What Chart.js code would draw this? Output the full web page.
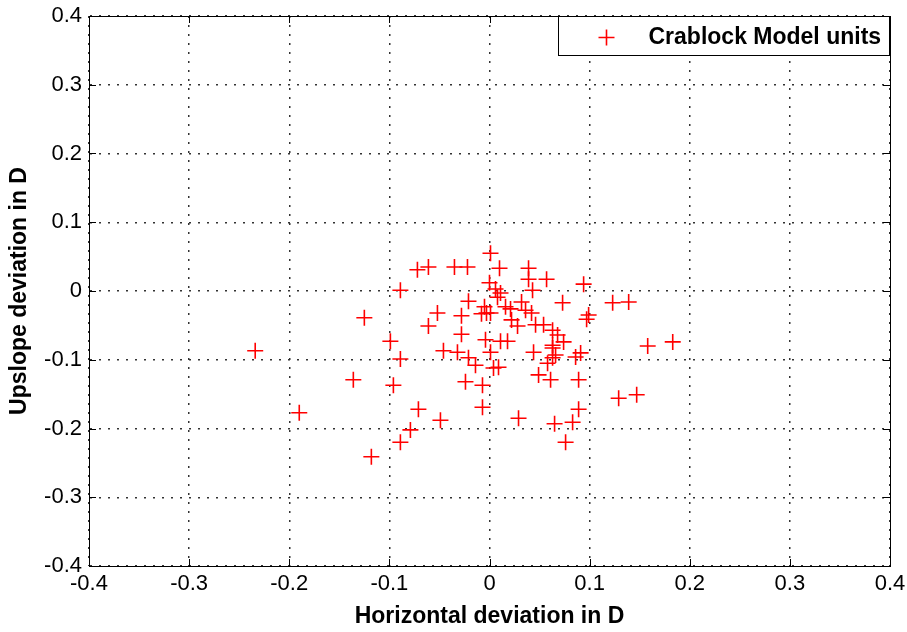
<!DOCTYPE html>
<html>
<head>
<meta charset="utf-8">
<title>Crablock Model units</title>
<script src="https://cdn.jsdelivr.net/npm/chart.js@4.4.1/dist/chart.umd.min.js"></script>
<style>
    html, body { margin: 0; padding: 0; background: #fff; }
    #wrap { width: 907px; height: 632px; position: relative; }
</style>
</head>
<body>
<div id="wrap"><canvas id="grafico"></canvas></div>
<script>
// ==============================================================================
// 1. DATOS
// ==============================================================================

const serieNombre = 'Crablock Model units';

// desviación horizontal (eje X, en D)
const horizontal = [
    -0.234, -0.190, -0.136, -0.125, -0.118, -0.099, -0.096, -0.089, -0.089, -0.089,
    -0.079, -0.072, -0.071, -0.061, -0.061, -0.052, -0.049, -0.046, -0.035, -0.032,
    -0.028, -0.028, -0.024, -0.022, -0.021, -0.021, -0.014, -0.007, -0.007, -0.008,
    -0.005, -0.003, 0.001, -0.004, 0.000, 0.001, 0.001, 0.004, 0.009, 0.006,
    0.011, 0.008, 0.010, 0.011, 0.018, 0.016, 0.021, 0.022, 0.028, 0.029,
    0.032, 0.036, 0.042, 0.039, 0.039, 0.043, 0.044, 0.046, 0.054, 0.049,
    0.057, 0.058, 0.061, 0.063, 0.063, 0.063, 0.066, 0.063, 0.065, 0.068,
    0.073, 0.074, 0.076, 0.083, 0.086, 0.089, 0.089, 0.091, 0.094, 0.097,
    0.099, 0.123, 0.129, 0.139, 0.147, 0.158, 0.183
];

// desviación pendiente arriba (eje Y, en D)
const pendiente = [
    -0.087, -0.177, -0.129, -0.039, -0.241, -0.073, -0.137, 0.001, -0.099, -0.220,
    -0.202, 0.031, -0.172, 0.035, -0.051, -0.032, -0.188, -0.087, 0.035, -0.089,
    -0.036, -0.063, -0.132, 0.035, -0.015, -0.097, -0.108, -0.137, -0.169, -0.033,
    -0.023, -0.032, -0.032, -0.071, 0.012, 0.055, -0.089, -0.112, -0.111, 0.003,
    -0.003, -0.009, 0.033, -0.073, -0.073, -0.023, -0.026, -0.042, -0.051, -0.185,
    -0.016, -0.028, -0.032, 0.033, 0.017, 0.001, -0.089, -0.049, -0.049, -0.122,
    0.017, -0.105, -0.129, -0.057, -0.079, -0.083, -0.093, -0.097, -0.193, -0.064,
    -0.017, -0.074, -0.220, -0.191, -0.096, -0.129, -0.172, -0.090, 0.010, -0.041,
    -0.035, -0.017, -0.156, -0.016, -0.151, -0.080, -0.074
];

const valoresTicks = [-0.4, -0.3, -0.2, -0.1, 0, 0.1, 0.2, 0.3, 0.4];
const etiquetasX = ['-0.4', '-0.3', '-0.2', '-0.1', '0', '0.1', '0.2', '0.3', '0.4'];
const etiquetasY = ['-0.4', '-0.3', '-0.2', '-0.1', '0', '0.1', '0.2', '0.3', '0.4'];

const tituloX = 'Horizontal deviation in D';
const tituloY = 'Upslope deviation in D';

// ==============================================================================
// 2. PLUGIN: marco, marcas interiores y leyenda en recuadro
// ==============================================================================

const FUENTE = "'Liberation Sans', Arial, sans-serif";
const ROJO = 'rgb(255,0,0)';

const marcoMatlab = {
    id: 'marcoMatlab',
    afterDraw(chart) {
        const { ctx, chartArea: a, scales } = chart;
        const largo = 7;
        ctx.save();
        ctx.strokeStyle = '#000';
        ctx.lineWidth = 1;

        // marcas hacia adentro en los cuatro lados
        ctx.beginPath();
        scales.x.ticks.forEach(t => {
            const px = Math.round(scales.x.getPixelForValue(t.value)) + 0.5;
            ctx.moveTo(px, a.bottom); ctx.lineTo(px, a.bottom - largo);
            ctx.moveTo(px, a.top); ctx.lineTo(px, a.top + largo);
        });
        scales.y.ticks.forEach(t => {
            const py = Math.round(scales.y.getPixelForValue(t.value)) + 0.5;
            ctx.moveTo(a.left, py); ctx.lineTo(a.left + largo, py);
            ctx.moveTo(a.right, py); ctx.lineTo(a.right - largo, py);
        });
        ctx.stroke();

        // marco completo
        ctx.strokeRect(Math.round(a.left) + 0.5, Math.round(a.top) + 0.5,
                       Math.round(a.right - a.left), Math.round(a.bottom - a.top));

        // leyenda
        const bx = Math.round(a.right) - 332 + 0.5, by = Math.round(a.top) + 0.5;
        const bw = 331, bh = 39;
        ctx.fillStyle = '#fff';
        ctx.fillRect(bx, by, bw, bh);
        ctx.strokeRect(bx, by, bw, bh);

        const cy = by + 21;
        const mx = bx + 48;
        ctx.strokeStyle = ROJO;
        ctx.lineWidth = 1.6;
        ctx.beginPath();
        ctx.moveTo(mx - 8, cy); ctx.lineTo(mx + 8, cy);
        ctx.moveTo(mx, cy - 8); ctx.lineTo(mx, cy + 8);
        ctx.stroke();

        ctx.fillStyle = '#000';
        ctx.font = 'bold 23px ' + FUENTE;
        ctx.textBaseline = 'middle';
        ctx.textAlign = 'left';
        ctx.fillText(chart.data.datasets[0].label, bx + 90, cy);
        ctx.restore();
    }
};

// ==============================================================================
// 3. GRÁFICO
// ==============================================================================

function ejeLineal(etiquetas, titulo, esX) {
    return {
        type: 'linear',
        position: esX ? 'bottom' : 'left',
        min: -0.4,
        max: 0.4,
        afterBuildTicks: s => { s.ticks = valoresTicks.map(v => ({ value: v })); },
        afterFit: s => {
            // tamaños fijos para que el área del gráfico coincida con la referencia
            if (esX) {
                s.height = 66;
                s.paddingLeft = 0;
                s.paddingRight = 0;
            } else {
                s.width = 89;
                s.paddingTop = 0;
                s.paddingBottom = 0;
            }
        },
        ticks: {
            color: '#000',
            font: { family: FUENTE, size: 22 },
            padding: esX ? 5 : 7,
            maxRotation: 0,
            autoSkip: false,
            callback: (v, i) => etiquetas[i]
        },
        grid: {
            color: '#333',
            lineWidth: 1.5,
            drawTicks: false
        },
        border: { display: true, color: '#000', width: 1, dash: [2, 7] },
        title: {
            display: true,
            text: titulo,
            color: '#000',
            font: { family: FUENTE, size: 23, weight: 'bold' },
            padding: esX ? { bottom: 2, top: 0 } : { top: 6, bottom: 0 }
        }
    };
}

const puntos = horizontal.map((x, i) => ({ x: x, y: pendiente[i] }));

new Chart(document.getElementById('grafico'), {
    type: 'scatter',
    data: {
        datasets: [{
            label: serieNombre,
            data: puntos,
            pointStyle: 'cross',
            pointRadius: 8,
            pointBorderWidth: 1.6,
            borderColor: ROJO,
            backgroundColor: ROJO
        }]
    },
    options: {
        responsive: true,
        maintainAspectRatio: false,
        animation: false,
        events: [],
        layout: { padding: { top: 16, right: 17, left: 0, bottom: 0 } },
        scales: {
            x: ejeLineal(etiquetasX, tituloX, true),
            y: ejeLineal(etiquetasY, tituloY, false)
        },
        plugins: {
            legend: { display: false },
            tooltip: { enabled: false }
        }
    },
    plugins: [marcoMatlab]
});
</script>
</body>
</html>
